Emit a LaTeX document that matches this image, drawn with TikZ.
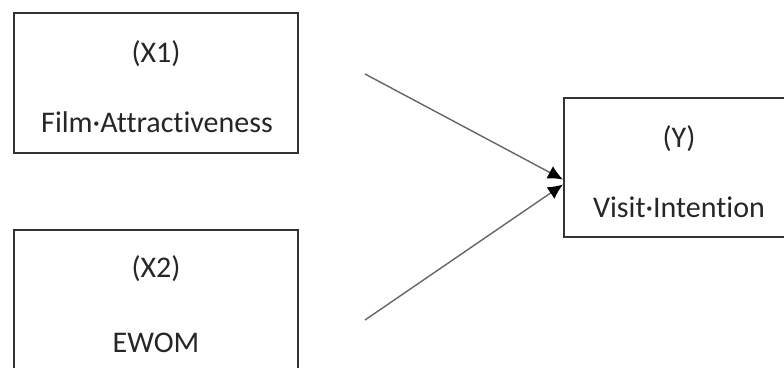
\documentclass[tikz,border=0pt]{standalone}
\usepackage{fontspec}
\setmainfont[Ligatures={NoCommon}]{Carlito}
\usetikzlibrary{arrows.meta}
\begin{document}
\begin{tikzpicture}[x=1pt,y=-1pt,
  boxnode/.style={draw=black!80,line width=2pt,rectangle,inner sep=0pt},
  lbl/.style={font=\fontsize{30}{33}\selectfont,text=black!85,inner sep=0pt,anchor=base},
  arr/.style={draw=black!60,line width=1.4pt,-{Latex[length=15pt,width=14pt,color=black]}}]
\useasboundingbox (0,0) rectangle (784,367);
\clip (0,0) rectangle (784,367);
\node[boxnode,minimum width=284pt,minimum height=140pt] (X1) at (156,83) {};
\node[boxnode,minimum width=284pt,minimum height=150pt] (X2) at (156,305) {};
\node[boxnode,minimum width=240pt,minimum height=139pt] (Y) at (684,167.5) {};
\node[lbl] (t1) at (156,62) {(X1)};
\node[lbl] (t2) at (157,132) {Film·Attractiveness};
\node[lbl] (t3) at (156,277) {(X2)};
\node[lbl] (t4) at (156,352) {EWOM};
\node[lbl] (t5) at (679,147) {(Y)};
\node[lbl] (t6) at (679,217) {Visit·Intention};
\coordinate (s1) at (365,74);
\coordinate (s2) at (365,320);
\draw[arr] (s1) -- ([yshift=-12pt]Y.west);
\draw[arr] (s2) -- ([yshift=-17pt]Y.west);
\end{tikzpicture}
\end{document}
